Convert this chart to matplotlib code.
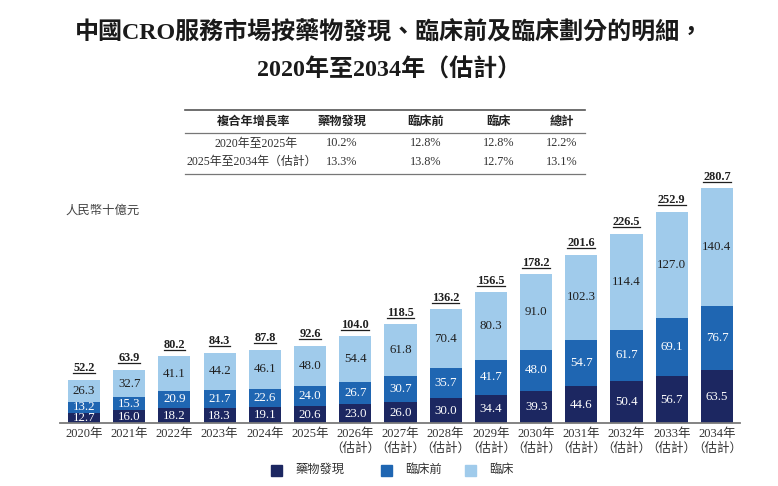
import matplotlib
matplotlib.use("Agg")
import matplotlib.pyplot as plt
from matplotlib.lines import Line2D
from matplotlib.patches import Rectangle

W, H = 778, 486
FAM = ['Liberation Serif', 'Noto Sans CJK TC', 'DejaVu Sans']
plt.rcParams['font.family'] = FAM

# ---------------- data ----------------
years = ['2020年', '2021年', '2022年', '2023年', '2024年', '2025年', '2026年', '2027年',
         '2028年', '2029年', '2030年', '2031年', '2032年', '2033年', '2034年']
estimated = [False] * 6 + [True] * 9
drug_discovery = [12.7, 16.0, 18.2, 18.3, 19.1, 20.6, 23.0, 26.0, 30.0, 34.4, 39.3, 44.6, 50.4, 56.7, 63.5]
preclinical = [13.2, 15.3, 20.9, 21.7, 22.6, 24.0, 26.7, 30.7, 35.7, 41.7, 48.0, 54.7, 61.7, 69.1, 76.7]
clinical = [26.3, 32.7, 41.1, 44.2, 46.1, 48.0, 54.4, 61.8, 70.4, 80.3, 91.0, 102.3, 114.4, 127.0, 140.4]
totals = [52.2, 63.9, 80.2, 84.3, 87.8, 92.6, 104.0, 118.5, 136.2, 156.5, 178.2, 201.6, 226.5, 252.9, 280.7]
series_names = ['藥物發現', '臨床前', '臨床']
colors = ['#1c2761', '#1f66b2', '#a0cbeb']

cagr_header = ['複合年增長率', '藥物發現', '臨床前', '臨床', '總計']
cagr_periods = ['2020年至2025年', '2025年至2034年（估計）']
cagr_values = [['10.2%', '12.8%', '12.8%', '12.2%'],
               ['13.3%', '13.8%', '12.7%', '13.1%']]

title_lines = ['中國CRO服務市場按藥物發現、臨床前及臨床劃分的明細，', '2020年至2034年（估計）']
unit_label = '人民幣十億元'

# ---------------- figure ----------------
fig = plt.figure(figsize=(W / 100, H / 100), dpi=100)
fig.patch.set_facecolor('white')

def fx(x):
    return x / W

def fy(y):
    return 1 - y / H

ax = fig.add_axes([fx(60), fy(423.5), fx(740) - fx(60), 0.5173])
x = list(range(len(years)))
bw = 0.71
bottoms = [0] * len(years)
for vals, col, name in zip([drug_discovery, preclinical, clinical], colors, series_names):
    ax.bar(x, vals, bw, bottom=bottoms, color=col, label=name, zorder=2)
    tc = '#1f1f1f' if col == colors[2] else 'white'
    for i, v in enumerate(vals):
        ax.text(x[i], bottoms[i] + v / 2, f'{v:.1f}', ha='center', va='center',
                fontsize=9.3, color=tc, family=FAM)
    bottoms = [b + v for b, v in zip(bottoms, vals)]

total_texts = []
for i, t in enumerate(totals):
    tt = ax.annotate(f'{t:.1f}', (x[i], bottoms[i]), xytext=(0, 4), textcoords='offset points',
                     ha='center', va='bottom', fontsize=8.8, fontweight='bold', color='#1f1f1f')
    total_texts.append(tt)

ax.set_xlim(-0.53, 14.51)
ax.set_ylim(0, 300)
for s in ['top', 'right', 'left']:
    ax.spines[s].set_visible(False)
ax.spines['bottom'].set_color('#7a7a7a')
ax.spines['bottom'].set_linewidth(1.3)
ax.set_yticks([])
ax.set_xticks(x)
ax.set_xticklabels([y + ('\n（估計）' if e else '') for y, e in zip(years, estimated)],
                   fontsize=9.0, color='#333333', linespacing=1.3)
ax.tick_params(axis='x', length=0, pad=3)

# underline the totals
fig.canvas.draw()
r = fig.canvas.get_renderer()
for tt in total_texts:
    bb = tt.get_window_extent(renderer=r)
    yl = bb.y0 + 1.0
    fig.add_artist(Line2D([bb.x0 / fig.bbox.width, bb.x1 / fig.bbox.width],
                          [yl / fig.bbox.height, yl / fig.bbox.height],
                          color='#1f1f1f', lw=0.9))

# ---------------- title ----------------
fig.text(0.5, fy(33), title_lines[0], ha='center', va='center', fontsize=17.3,
         fontweight='bold', color='#1a1a1a')
fig.text(0.5, fy(70), title_lines[1], ha='center', va='center', fontsize=17.3,
         fontweight='bold', color='#1a1a1a')

# ---------------- CAGR table ----------------
col_x = [254, 342, 426, 499, 562]
fig.add_artist(Line2D([fx(185), fx(585)], [fy(110), fy(110)], color='#555555', lw=1.2))
fig.add_artist(Line2D([fx(185), fx(585)], [fy(132.7), fy(132.7)], color='#777777', lw=0.9))
fig.add_artist(Line2D([fx(185), fx(585)], [fy(174), fy(174)], color='#777777', lw=0.9))
for cx, h in zip(col_x, cagr_header):
    fig.text(fx(cx), fy(121.5), h, ha='center', va='center', fontsize=8.8,
             fontweight='bold', color='#222222')
row_y = [143.5, 161.5]
label_x = [256, 252]
for ry, lx, per, vals in zip(row_y, label_x, cagr_periods, cagr_values):
    fig.text(fx(lx), fy(ry), per, ha='center', va='center', fontsize=8.6, color='#333333')
    for cx, v in zip(col_x[1:], vals):
        fig.text(fx(cx), fy(ry), v, ha='center', va='center', fontsize=8.8, color='#333333')

# ---------------- unit label ----------------
fig.text(fx(65), fy(211), unit_label, ha='left', va='center', fontsize=8.9,
         style='italic', color='#444444')

# ---------------- legend ----------------
leg_sq_x = [276, 386, 470]
for sx, col, name in zip(leg_sq_x, colors, series_names):
    fig.add_artist(Rectangle((fx(sx - 5.5), fy(475.5)), 11 / W, 11 / H, color=col))
    fig.text(fx(sx + 19), fy(470), name, ha='left', va='center', fontsize=8.8, color='#333333')

fig.savefig('out.png', dpi=100, facecolor='white')
